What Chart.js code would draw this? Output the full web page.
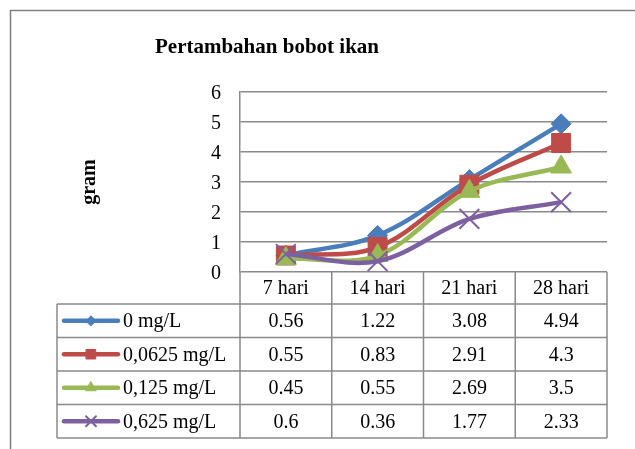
<!DOCTYPE html>
<html>
<head>
<meta charset="utf-8">
<script src="https://cdn.jsdelivr.net/npm/chart.js@4.4.0/dist/chart.umd.min.js"></script>
<style>
  html, body { margin: 0; padding: 0; background: #fff; }
  canvas { display: block; }
</style>
</head>
<body>
<canvas id="myChart" width="635" height="449"></canvas>
<script>
const chartTitle = 'Pertambahan bobot ikan';
const axisTitle = 'gram';
const days = ['7 hari', '14 hari', '21 hari', '28 hari'];
const seriesNames = ['0 mg/L', '0,0625 mg/L', '0,125 mg/L', '0,625 mg/L'];
const dose0 = [0.56, 1.22, 3.08, 4.94];
const dose0625 = [0.55, 0.83, 2.91, 4.3];
const dose125 = [0.45, 0.55, 2.69, 3.5];
const dose625 = [0.6, 0.36, 1.77, 2.33];

const serif = "'Liberation Serif', 'Times New Roman', serif";
const gridColor = '#8a8a8a';

function series(i, values, color, style, radius, order) {
  return {
    label: seriesNames[i],
    data: values,
    borderColor: color,
    backgroundColor: color,
    borderWidth: 4.5,
    tension: 0.35,
    pointStyle: style,
    pointRadius: radius,
    pointBackgroundColor: color,
    pointBorderColor: color,
    pointBorderWidth: style === 'crossRot' ? 2 : 1,
    order: order
  };
}

// frame + data table under the plot
const tablePlugin = {
  id: 'dataTable',
  beforeDraw(chart) {
    const ctx = chart.ctx;
    ctx.save();
    ctx.strokeStyle = '#7f7f7f';
    ctx.lineWidth = 1.5;
    ctx.beginPath();
    ctx.moveTo(10.5, 449);
    ctx.lineTo(10.5, 10.5);
    ctx.lineTo(635, 10.5);
    ctx.stroke();
    ctx.restore();
  },
  afterDraw(chart) {
    const {ctx, chartArea} = chart;
    const x = chart.scales.x;
    const half = (x.getPixelForValue(1) - x.getPixelForValue(0)) / 2;
    const top = chartArea.bottom;
    const headBottom = top + 32;
    const rowH = 33.5;
    const legendLeft = 57;
    const sets = chart.data.datasets;
    const bottom = headBottom + rowH * sets.length;

    ctx.save();
    ctx.strokeStyle = gridColor;
    ctx.lineWidth = 1.5;
    ctx.beginPath();
    for (let r = 0; r <= sets.length; r++) {
      const y = headBottom + r * rowH;
      ctx.moveTo(legendLeft, y);
      ctx.lineTo(chartArea.right, y);
    }
    ctx.moveTo(legendLeft, headBottom);
    ctx.lineTo(legendLeft, bottom);
    ctx.moveTo(chartArea.left, top);
    ctx.lineTo(chartArea.left, bottom);
    days.forEach((d, i) => {
      const bx = x.getPixelForValue(i) + half;
      ctx.moveTo(bx, top);
      ctx.lineTo(bx, bottom);
    });
    ctx.stroke();

    ctx.fillStyle = '#000';
    ctx.font = '20px ' + serif;
    ctx.textBaseline = 'middle';
    sets.forEach((ds, r) => {
      const cy = headBottom + r * rowH + rowH / 2;
      ctx.textAlign = 'center';
      ctx.fillStyle = '#000';
      ds.data.forEach((v, i) => {
        ctx.fillText(String(v), x.getPixelForValue(i), cy + 1);
      });
      // legend key
      ctx.strokeStyle = ds.borderColor;
      ctx.lineWidth = 4.5;
      ctx.lineCap = 'round';
      ctx.beginPath();
      ctx.moveTo(64, cy);
      ctx.lineTo(118, cy);
      ctx.stroke();
      ctx.fillStyle = ds.borderColor;
      ctx.lineWidth = ds.pointBorderWidth;
      Chart.helpers.drawPoint(ctx, {
        pointStyle: ds.pointStyle,
        radius: ds.pointRadius * 0.5,
        rotation: 0,
        borderWidth: ds.pointBorderWidth
      }, 91, cy);
      ctx.fillStyle = '#000';
      ctx.textAlign = 'left';
      ctx.fillText(ds.label, 123, cy + 1);
    });

    ctx.font = 'bold 21px ' + serif;
    ctx.textAlign = 'center';
    ctx.textBaseline = 'alphabetic';
    ctx.fillText(chartTitle, 267, 53);
    ctx.restore();
  }
};

const config = {
  type: 'line',
  data: {
    labels: days,
    datasets: [
      series(0, dose0, '#4a7ebb', 'rectRot', 10, 3),
      series(1, dose0625, '#be4b48', 'rect', 13.4, 2),
      series(2, dose125, '#98b954', 'triangle', 12, 1),
      series(3, dose625, '#7d60a0', 'crossRot', 14, 0)
    ]
  },
  options: {
    responsive: false,
    animation: false,
    events: [],
    layout: { padding: { left: 0, right: 28, top: 92, bottom: 0 } },
    plugins: {
      legend: { display: false },
      tooltip: { enabled: false },
      title: { display: false }
    },
    scales: {
      x: {
        offset: true,
        grid: { display: false, drawTicks: false },
        border: { display: false },
        ticks: {
          color: '#000',
          font: { family: serif, size: 20 },
          padding: 5,
          maxRotation: 0,
          autoSkip: false
        },
        afterFit(scale) { scale.height = 177; }
      },
      y: {
        min: 0,
        max: 6,
        grid: { color: gridColor, lineWidth: 1.5, drawTicks: false },
        border: { display: true, color: gridColor, width: 1.5 },
        ticks: {
          stepSize: 1,
          color: '#000',
          font: { family: serif, size: 20 },
          padding: 19,
          labelOffset: 2
        },
        title: {
          display: true,
          text: axisTitle,
          color: '#000',
          font: { family: serif, size: 20, weight: 'bold' },
          padding: { top: 78, bottom: 0 }
        },
        afterFit(scale) { scale.width = 240; }
      }
    }
  },
  plugins: [tablePlugin]
};

const myChart = new Chart(
  document.getElementById('myChart'),
  config
);
</script>
</body>
</html>
